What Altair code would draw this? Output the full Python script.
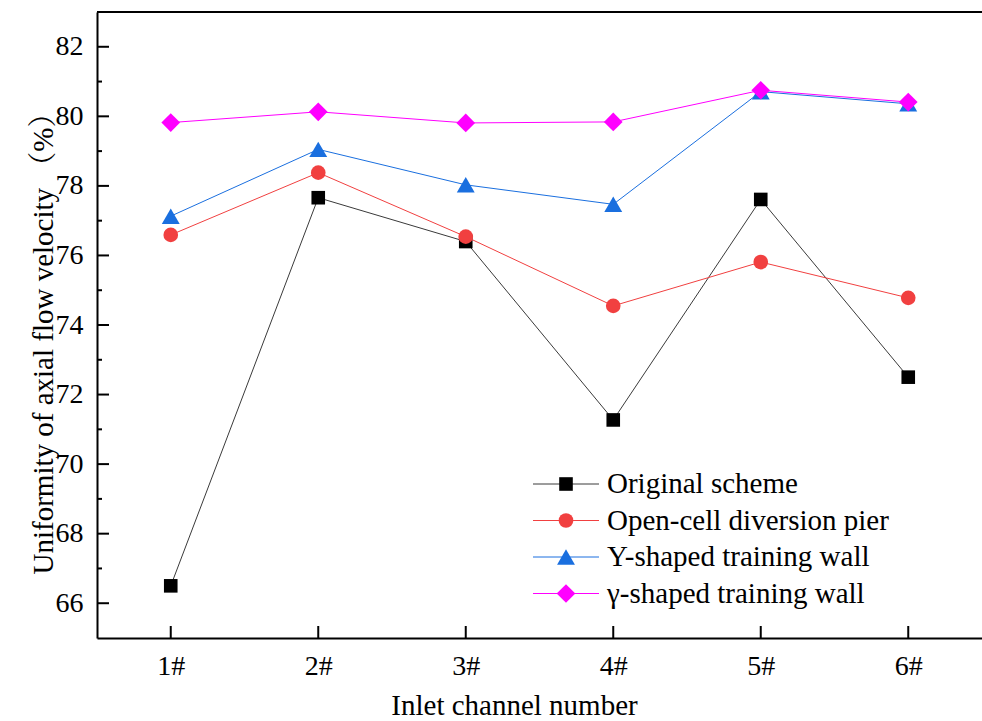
import altair as alt
import pandas as pd

# Inlet channels and the four layout schemes
channels = ["1#", "2#", "3#", "4#", "5#", "6#"]
schemes = [
    "Original scheme",
    "Open-cell diversion pier",
    "Y-shaped training wall",
    "γ-shaped training wall",
]

# Uniformity of axial flow velocity (%) per channel
original = [66.50, 77.66, 76.40, 71.27, 77.61, 72.50]
open_cell = [76.59, 78.38, 76.54, 74.55, 75.81, 74.78]
y_wall = [77.13, 79.05, 78.03, 77.47, 80.71, 80.36]
gamma_wall = [79.82, 80.13, 79.81, 79.84, 80.75, 80.41]

series_values = [original, open_cell, y_wall, gamma_wall]
colors = ["#000000", "#F14040", "#1A6FDF", "#FF00FF"]
line_colors = ["#3a3a3a", "#F14040", "#1A6FDF", "#FF00FF"]
shapes = ["square", "circle", "triangle-up", "diamond"]
sizes = [185, 215, 320, 350]

major_ticks = [66, 68, 70, 72, 74, 76, 78, 80, 82]
minor_ticks = [67, 69, 71, 73, 75, 77, 79, 81]

FONT = "Liberation Serif, Times New Roman, Noto Serif CJK SC, Noto Sans CJK SC"
W, H = 885, 626

x_scale = alt.Scale(type="point", domain=channels, padding=0.5)
y_scale = alt.Scale(domain=[65, 83], nice=False, zero=False)

x_axis = alt.Axis(
    title="Inlet channel number",
    grid=False, ticks=False, tickSize=0,
    domainColor="black", domainWidth=2,
    labelFont=FONT, labelFontSize=28, labelColor="black", labelPadding=14,
    labelAngle=0,
    titleFont=FONT, titleFontSize=29, titleFontWeight="normal", titleColor="black",
    titleX=417, titleY=76, titleAlign="center", titleBaseline="alphabetic",
)
y_axis = alt.Axis(
    title="Uniformity of axial flow velocity （%）",
    values=major_ticks,
    grid=False, ticks=False, tickSize=0,
    domainColor="black", domainWidth=2,
    labelFont=FONT, labelFontSize=28, labelColor="black", labelPadding=14,
    titleFont=FONT, titleFontSize=29, titleFontWeight="normal", titleColor="black",
    titleAngle=-90, titleX=-45, titleY=324, titleAlign="center",
    titleBaseline="alphabetic",
)


def x_enc(field):
    return alt.X(f"{field}:N", scale=x_scale, axis=x_axis, sort=channels)


def y_enc(field):
    return alt.Y(f"{field}:Q", scale=y_scale, axis=y_axis)


layers = []

# Each scheme: thin connecting line, then its markers on top
for name, vals, col, lcol, shp, sz in zip(schemes, series_values, colors,
                                         line_colors, shapes, sizes):
    df = pd.DataFrame({"channel": channels, "value": vals, "scheme": name})
    base = alt.Chart(df).encode(x=x_enc("channel"), y=y_enc("value"))
    layers.append(base.mark_line(color=lcol, strokeWidth=1))
    layers.append(base.mark_point(shape=shp, size=sz, filled=True,
                                  color=col, opacity=1, strokeWidth=0))

# Inward-pointing tick marks on the left and bottom axes
ticks_major = pd.DataFrame({"v": major_ticks})
ticks_minor = pd.DataFrame({"v": minor_ticks})
layers.append(alt.Chart(ticks_major).mark_rule(color="black", strokeWidth=2).encode(
    y=y_enc("v"), x=alt.value(0), x2=alt.value(12)))
layers.append(alt.Chart(ticks_minor).mark_rule(color="black", strokeWidth=2).encode(
    y=y_enc("v"), x=alt.value(0), x2=alt.value(5)))
layers.append(alt.Chart(pd.DataFrame({"c": channels})).mark_rule(
    color="black", strokeWidth=2).encode(
    x=x_enc("c"), y=alt.value(H), y2=alt.value(H - 12)))

# Top frame line
layers.append(alt.Chart(pd.DataFrame({"c": [0]})).mark_rule(
    color="black", strokeWidth=2).encode(
    x=alt.value(0), x2=alt.value(W), y=alt.value(0)))

# Legend inside the plot area: line segment with centred marker, then label
leg_x0, leg_x1, leg_mark, leg_text = 436, 502, 469, 510
leg_rows = [472, 508.5, 545, 581.5]
for name, col, lcol, shp, sz, ry in zip(schemes, colors, line_colors, shapes,
                                         sizes, leg_rows):
    one = pd.DataFrame({"label": [name]})
    c = alt.Chart(one)
    layers.append(c.mark_rule(color=lcol, strokeWidth=1).encode(
        x=alt.value(leg_x0), x2=alt.value(leg_x1), y=alt.value(ry)))
    layers.append(c.mark_point(shape=shp, size=sz, filled=True, color=col,
                               opacity=1, strokeWidth=0).encode(
        x=alt.value(leg_mark), y=alt.value(ry)))
    layers.append(c.mark_text(align="left", baseline="middle", font=FONT,
                              fontSize=29, color="black").encode(
        x=alt.value(leg_text), y=alt.value(ry), text="label:N"))

chart = alt.layer(*layers).properties(
    width=W,
    height=H,
    autosize=alt.AutoSizeParams(type="none"),
    padding={"left": 97, "top": 12, "right": 0, "bottom": 83},
    background="white",
).configure_view(stroke=None)

chart.save("out.html", embed_options={"renderer": "svg", "actions": False})
